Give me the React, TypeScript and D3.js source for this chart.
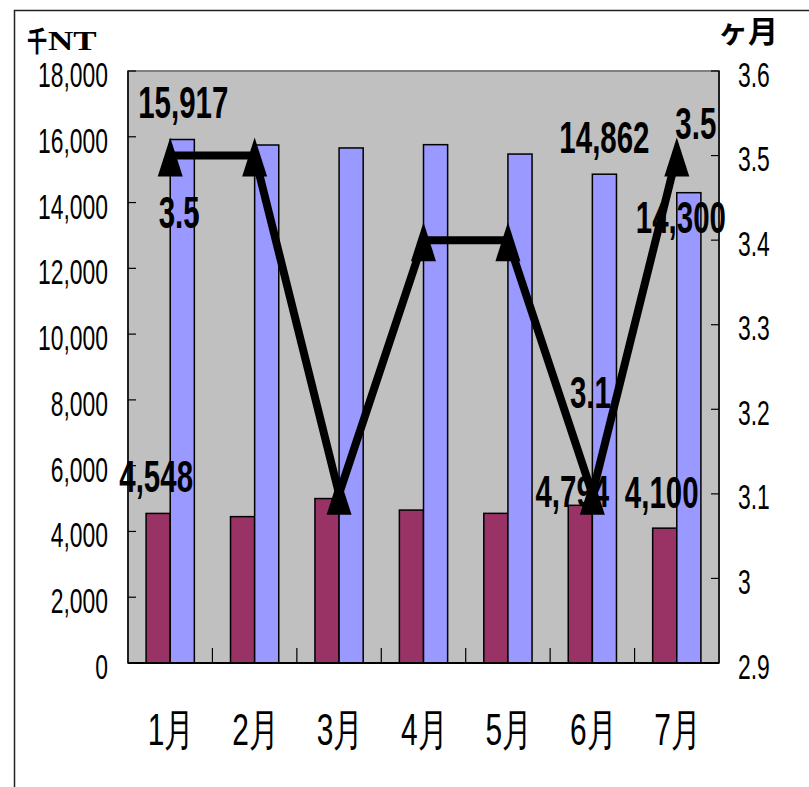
import React from "react";
import * as d3 from "d3";

const months = ["1月", "2月", "3月", "4月", "5月", "6月", "7月"];
const seriesRed = [4548, 4450, 5000, 4650, 4550, 4794, 4100];
const seriesBlue = [15917, 15750, 15660, 15760, 15475, 14862, 14300];
const seriesLine = [3.5, 3.5, 3.1, 3.4, 3.4, 3.1, 3.5];
const leftTicks = [0, 2000, 4000, 6000, 8000, 10000, 12000, 14000, 16000, 18000];
const rightTicks = [2.9, 3.0, 3.1, 3.2, 3.3, 3.4, 3.5, 3.6];
const rightTickLabels = ["2.9", "3", "3.1", "3.2", "3.3", "3.4", "3.5", "3.6"];
const leftTitleCJK = "千";
const leftTitleLatin = "NT";
const rightTitle = "ヶ月";

// which points carry data labels, with label offsets (style, not data)
const redLabels = [
  { i: 0, dx: -2, dy: -21 },
  { i: 5, dx: -8, dy: 2 },
  { i: 6, dx: -3, dy: -20 },
];
const blueLabels = [
  { i: 0, dx: 1, dy: -22 },
  { i: 5, dx: 0, dy: -21 },
  { i: 6, dx: -8, dy: 40 },
];
const lineLabels = [
  { i: 0, dx: 9, dy: 72 },
  { i: 5, dx: -2, dy: -86 },
  { i: 6, dx: 19, dy: -17 },
];

const W = 809;
const H = 787;
const P = { left: 128, top: 71, right: 719, bottom: 663 };
const SANS = "'Liberation Sans', Arial, sans-serif";
const CJK = "'Noto Sans CJK JP', 'Noto Sans CJK SC', sans-serif";

function T(props: {
  x: number; y: number; text: string; size: number; anchor?: string;
  weight?: string | number; sx?: number; family?: string;
}) {
  const { x, y, text, size, anchor = "middle", weight = "normal", sx = 0.655, family = SANS } = props;
  return (
    <text
      transform={`translate(${x},${y}) scale(${sx},1)`}
      textAnchor={anchor}
      fontSize={size}
      fontWeight={weight}
      fontFamily={family}
      fill="#000"
    >
      {text}
    </text>
  );
}

export default function App() {
  const x = d3.scaleBand<string>().domain(months).range([P.left, P.right]).paddingInner(0).paddingOuter(0);
  const bw = x.bandwidth();
  const barW = bw / 3.5;
  const yL = d3.scaleLinear().domain([0, 18000]).range([P.bottom, P.top]);
  const yR = d3.scaleLinear().domain([2.9, 3.6]).range([P.bottom, P.top]);
  const fmt = d3.format(",");
  const cx = (m: string) => (x(m) as number) + bw / 2;

  const linePath = d3
    .line<number>()
    .x((_, i) => cx(months[i]))
    .y((d) => yR(d))(seriesLine) as string;

  const tri = (px: number, py: number) =>
    `M${px},${py - 18}L${px + 12.5},${py + 21}L${px - 12.5},${py + 21}Z`;

  return (
    <svg width={W} height={H} style={{ position: "absolute", left: 0, top: 0 }}>
      <rect x={0} y={0} width={W} height={H} fill="#fff" />
      <rect x={14.5} y={10.5} width={820} height={820} fill="none" stroke="#222" strokeWidth={1.5} />

      {/* plot area */}
      <rect x={P.left} y={P.top} width={P.right - P.left} height={P.bottom - P.top} fill="#C0C0C0" stroke="#808080" strokeWidth={2} />

      {/* bars */}
      {months.map((m, i) => (
        <g key={m}>
          <rect x={cx(m) - barW} y={yL(seriesRed[i])} width={barW} height={yL(0) - yL(seriesRed[i])} fill="#993366" stroke="#000" strokeWidth={1.5} />
          <rect x={cx(m)} y={yL(seriesBlue[i])} width={barW} height={yL(0) - yL(seriesBlue[i])} fill="#9999FF" stroke="#000" strokeWidth={1.5} />
        </g>
      ))}

      {/* axes */}
      <line x1={P.left} x2={P.left} y1={P.top} y2={P.bottom} stroke="#000" strokeWidth={1.5} />
      <line x1={P.right} x2={P.right} y1={P.top} y2={P.bottom} stroke="#000" strokeWidth={1.5} />
      <line x1={P.left} x2={P.right} y1={P.bottom} y2={P.bottom} stroke="#000" strokeWidth={2} />
      {leftTicks.map((t) => (
        <g key={"l" + t}>
          <line x1={P.left} x2={P.left + 8} y1={yL(t)} y2={yL(t)} stroke="#000" strokeWidth={1.2} />
          <T x={108} y={yL(t) + 16} text={fmt(t)} size={35} anchor="end" />
        </g>
      ))}
      {rightTicks.map((t, i) => (
        <g key={"r" + t}>
          <line x1={P.right - 8} x2={P.right} y1={yR(t)} y2={yR(t)} stroke="#000" strokeWidth={1.2} />
          <T x={738} y={yR(t) + 15.5} text={rightTickLabels[i]} size={35} anchor="start" />
        </g>
      ))}
      {months.slice(1).map((m) => (
        <line key={"c" + m} x1={x(m) as number} x2={x(m) as number} y1={P.bottom} y2={P.bottom - 15} stroke="#000" strokeWidth={1.2} />
      ))}
      {months.map((m) => (
        <T key={"x" + m} x={cx(m) + 1} y={745} text={m} size={44} sx={0.68} />
      ))}

      {/* line series */}
      <path d={linePath} fill="none" stroke="#000" strokeWidth={8} strokeLinejoin="miter" />
      {seriesLine.map((v, i) => (
        <path key={"t" + i} d={tri(cx(months[i]), yR(v))} fill="#000" />
      ))}

      {/* data labels */}
      {redLabels.map((l) => (
        <T key={"rl" + l.i} x={cx(months[l.i]) - barW / 2 + l.dx} y={yL(seriesRed[l.i]) + l.dy} text={fmt(seriesRed[l.i])} size={45} weight="bold" />
      ))}
      {blueLabels.map((l) => (
        <T key={"bl" + l.i} x={cx(months[l.i]) + barW / 2 + l.dx} y={yL(seriesBlue[l.i]) + l.dy} text={fmt(seriesBlue[l.i])} size={45} weight="bold" />
      ))}
      {lineLabels.map((l) => (
        <T key={"ll" + l.i} x={cx(months[l.i]) + l.dx} y={yR(seriesLine[l.i]) + l.dy} text={String(seriesLine[l.i])} size={45} weight="bold" />
      ))}

      {/* axis titles */}
      <T x={27} y={52} text={leftTitleCJK} size={28} anchor="start" weight="bold" sx={0.72} family={CJK} />
      <T x={48} y={50} text={leftTitleLatin} size={28} anchor="start" weight="bold" sx={1.25} family="'Liberation Serif', 'Times New Roman', serif" />
      <text x={778} y={42} fontSize={30} fontWeight="bold" fontFamily={CJK} textAnchor="end" fill="#000">{rightTitle}</text>
    </svg>
  );
}
